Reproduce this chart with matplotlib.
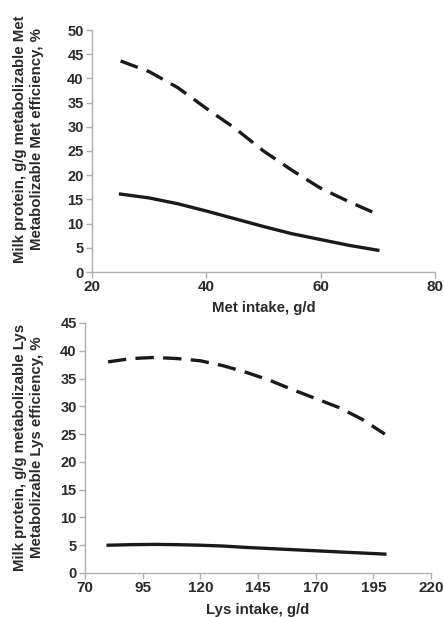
import matplotlib
matplotlib.use("Agg")
import matplotlib.pyplot as plt

plt.rcParams['font.family'] = ['Liberation Sans', 'DejaVu Sans']
plt.rcParams['font.weight'] = 'bold'

# Top panel: Met
met_x = [25, 30, 35, 40, 45, 50, 55, 60, 65, 70]
met_eff = [43.6, 41.4, 38.1, 33.8, 29.7, 25.0, 21.0, 17.3, 14.5, 11.9]
met_prot = [16.1, 15.3, 14.1, 12.6, 11.0, 9.4, 7.9, 6.7, 5.5, 4.5]
met_xticks = [20, 40, 60, 80]
met_yticks = [0, 5, 10, 15, 20, 25, 30, 35, 40, 45, 50]

# Bottom panel: Lys
lys_x = [80, 90, 100, 110, 120, 130, 140, 150, 160, 170, 180, 190, 200]
lys_eff = [38.0, 38.6, 38.8, 38.6, 38.2, 37.3, 36.1, 34.7, 33.0, 31.4, 29.8, 27.7, 25.0]
lys_prot = [5.0, 5.1, 5.15, 5.1, 5.0, 4.85, 4.6, 4.4, 4.2, 4.0, 3.8, 3.6, 3.4]
lys_xticks = [70, 95, 120, 145, 170, 195, 220]
lys_yticks = [0, 5, 10, 15, 20, 25, 30, 35, 40, 45]

W, H = 444, 617
fig = plt.figure(figsize=(W/100, H/100), dpi=100)

def add_ax(l, r, t, b):
    return fig.add_axes([l/W, 1 - b/H, (r-l)/W, (b-t)/H])

ax1 = add_ax(92, 435, 30, 272)
ax2 = add_ax(85, 431, 323, 573)

axcol = '#b0b0b0'
txtcol = '#2a2a2a'
def style(ax, xt, yt):
    for s in ['top', 'right']:
        ax.spines[s].set_visible(False)
    for s in ['left', 'bottom']:
        ax.spines[s].set_color(axcol)
        ax.spines[s].set_linewidth(1.0)
    ax.set_xticks(xt)
    ax.set_yticks(yt)
    ax.set_xlim(xt[0], xt[-1])
    ax.set_ylim(yt[0], yt[-1])
    ax.tick_params(axis='both', colors=axcol, labelcolor=txtcol, labelsize=10.5,
                   length=4, width=1.0, direction='out', pad=2)
    ax.tick_params(axis='x', labelsize=11)
    for lab in ax.get_xticklabels() + ax.get_yticklabels():
        lab.set_fontweight('bold')
    ax.patch.set_alpha(0)

dash = (0, (5.5, 2.8))
ax1.plot(met_x, met_eff, color='#1a1a1a', lw=2.4, ls=dash)
ax1.plot(met_x, met_prot, color='#1a1a1a', lw=2.4)
style(ax1, met_xticks, met_yticks)

ax2.plot(lys_x, lys_eff, color='#1a1a1a', lw=2.4, ls=dash)
ax2.plot(lys_x, lys_prot, color='#1a1a1a', lw=2.4)
style(ax2, lys_xticks, lys_yticks)

fs = 10.8
kw = dict(fontsize=fs, fontweight='bold', color=txtcol)
fig.text(20/W, 1 - 139/H, "Milk protein, g/g metabolizable Met", rotation=90,
         ha='center', va='center', **kw)
fig.text(37/W, 1 - 139/H, "Metabolizable Met efficiency, %", rotation=90,
         ha='center', va='center', **kw)
fig.text(20/W, 1 - 447/H, "Milk protein, g/g metabolizable Lys", rotation=90,
         ha='center', va='center', **kw)
fig.text(37/W, 1 - 447/H, "Metabolizable Lys efficiency, %", rotation=90,
         ha='center', va='center', **kw)
fig.text(264/W, 1 - 308/H, "Met intake, g/d", ha='center', va='center', **kw)
fig.text(258/W, 1 - 610/H, "Lys intake, g/d", ha='center', va='center', **kw)

fig.savefig("out.png", dpi=100)
